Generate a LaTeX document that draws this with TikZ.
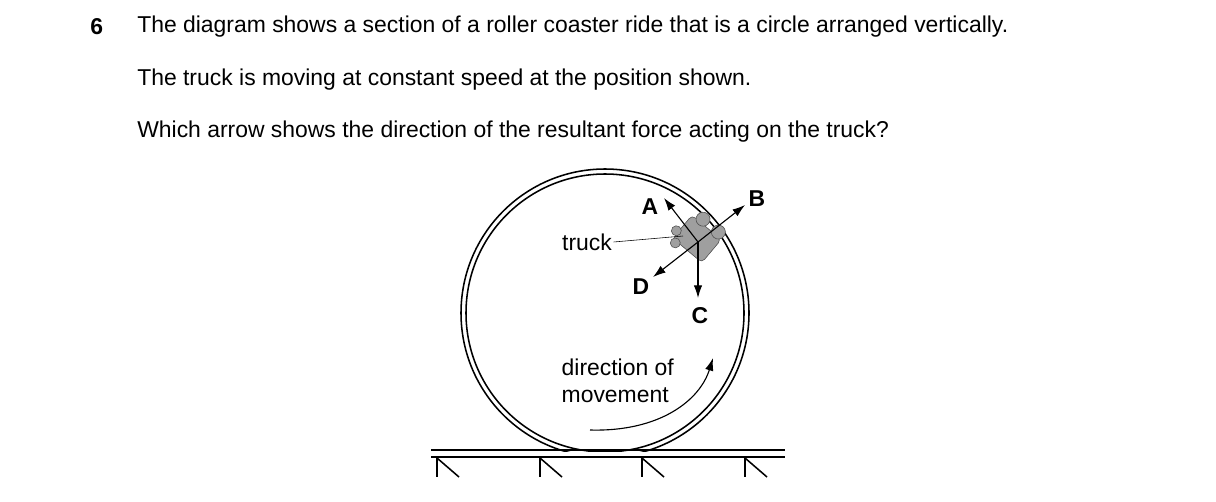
\documentclass[tikz,border=0pt]{standalone}
\usepackage{fontspec}
\setmainfont{Liberation Sans}
\usetikzlibrary{arrows.meta, positioning}
\begin{document}
\begin{tikzpicture}[
        x=0.025cm, y=-0.025cm,
        % styles
        question/.style={anchor=west, inner sep=0pt, font=\fontsize{16.3}{18}\selectfont},
        label/.style={inner sep=1pt, font=\fontsize{16.3}{18}\selectfont},
        letter/.style={inner sep=0pt, font=\fontsize{16.3}{18}\selectfont\bfseries},
        force/.style={thick, -{Latex[length=9pt, width=6pt]}},
        rail/.style={line width=1.1pt}
    ]
        \useasboundingbox (0,0) rectangle (1216,501);
        % Question text
        \node[letter, anchor=west] (num) at (90,27) {6};
        \node[question] (line1) at (137,27) {The diagram shows a section of a roller coaster ride that is a circle arranged vertically.};
        \node[question] (line2) at (137,80) {The truck is moving at constant speed at the position shown.};
        \node[question] (line3) at (137,132) {Which arrow shows the direction of the resultant force acting on the truck?};

        % Loop and track
        \coordinate (centre) at (605,313);
        \draw[rail] (centre) circle (144);
        \draw[rail] (centre) circle (139);
        \fill[white] (560,451.5) rectangle (650,456.5);
        \draw[rail] (431,450) -- (785,450);
        \draw[rail] (431,457) -- (785,457);
        \foreach \sx in {437,540,642,745} {
            \draw[rail] (\sx,457) -- (\sx,477);
            \draw[rail] (\sx,458) -- (\sx+22,477);
        }

        % Truck
        \begin{scope}[shift={(699,238)}, rotate=-40]
            \filldraw[fill=gray!75, draw=black!70, rounded corners=3pt] (-20,-13) rectangle (18,17);
            \filldraw[fill=gray!75, draw=black!70] (-9,-17) circle (7);
            \filldraw[fill=gray!75, draw=black!70] (11,-17) circle (7);
            \filldraw[fill=gray!75, draw=black!70] (-22,9) circle (5);
            \filldraw[fill=gray!75, draw=black!70] (-15,19) circle (5);
        \end{scope}
        \coordinate (hub) at (698,242);

        % Force arrows
        \coordinate (tipA) at (664,198);
        \coordinate (tipB) at (745,205);
        \coordinate (tipC) at (698,298);
        \coordinate (tipD) at (653,277);
        \draw[force] (hub) -- (tipA);
        \draw[force] (hub) -- (tipB);
        \draw[force] (hub) -- (tipC);
        \draw[force] (hub) -- (tipD);
        \node[letter] (A) at (650,207) {A};
        \node[letter] (B) at (757,199) {B};
        \node[letter] (C) at (700,316) {C};
        \node[letter] (D) at (641,287) {D};

        % Truck label
        \node[label] (truck) at (587,242) {truck};
        \coordinate (truckpt) at (683,236);
        \draw[thin] (truck.east) -- (truckpt);

        % Direction of movement
        \node[label, anchor=west] (dir1) at (560,367) {direction of};
        \node[label, anchor=west] (dir2) at (560,395) {movement};
        \coordinate (arcstart) at (590,430);
        \coordinate (arcend) at (713,358);
        \draw[thick, -{Latex[length=9pt, width=6pt]}] (arcstart) .. controls (660,432) and (700,400) .. (arcend);
\end{tikzpicture}
\end{document}
